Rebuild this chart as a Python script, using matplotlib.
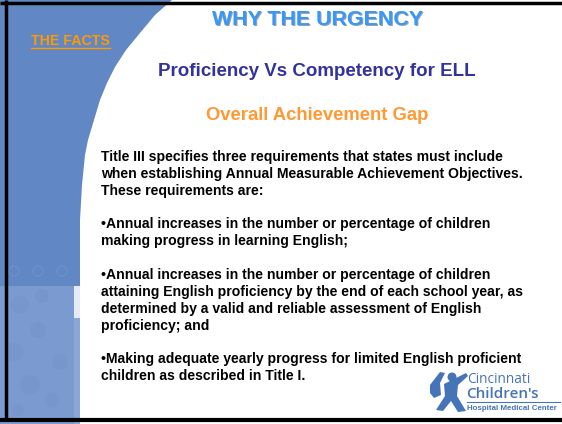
import matplotlib.pyplot as plt
from matplotlib.patches import Rectangle, Circle, Polygon

plt.rcParams['font.family'] = ['Liberation Sans', 'DejaVu Sans']

# ---- slide content ----
titulo = 'WHY THE URGENCY'
enlace = 'THE FACTS'
subtitulo = 'Proficiency Vs Competency for ELL'
subtitulo2 = 'Overall Achievement Gap'
cuerpo = [
    'Title III specifies three requirements that states must include',
    'when establishing Annual Measurable Achievement Objectives.',
    'These requirements are:',
    '',
    '\u2022Annual increases in the number or percentage of children',
    'making progress in learning English;',
    '',
    '\u2022Annual increases in the number or percentage of children',
    'attaining English proficiency by the end of each school year, as',
    'determined by a valid and reliable assessment of English',
    'proficiency; and',
    '',
    '\u2022Making adequate yearly progress for limited English proficient',
    'children as described in Title I.',
]
logo_lineas = ['Cincinnati', "Children's", 'Hospital Medical Center']

AZUL = '#6188c4'
AZUL_CLARO = '#7a9ad0'
AZUL_LOGO = '#4674b8'

W, H = 562, 424
fig = plt.figure(figsize=(W / 100, H / 100), dpi=100)
ax = fig.add_axes([0, 0, 1, 1])
ax.set_xlim(0, W)
ax.set_ylim(H, 0)
ax.axis('off')

# ---- left panel with curved edge ----
borde = [(172, 0), (155, 15), (140, 33), (126, 50), (115, 67), (107, 83),
         (100, 100), (94, 120), (88, 140), (85, 155), (82, 185), (80, 220),
         (80, 286)]
ax.add_patch(Polygon([(0, 0)] + borde + [(0, 286)], closed=True,
                     facecolor=AZUL, edgecolor='none'))
ax.add_patch(Rectangle((0, 286), 74, 140, facecolor=AZUL_CLARO, edgecolor='none'))
ax.add_patch(Rectangle((74, 286), 6, 32, facecolor='#e4ebf6', edgecolor='none'))
ax.add_patch(Rectangle((74, 318), 6, 108, facecolor='#8aa6d6', edgecolor='none'))
# faint circle texture
for cx, cy, r in [(20, 305, 9), (42, 296, 7), (38, 330, 8), (14, 352, 9),
                  (30, 385, 10), (60, 362, 8), (52, 400, 7), (18, 410, 6)]:
    ax.add_patch(Circle((cx, cy), r, facecolor='#7090c8', edgecolor='none', alpha=0.4))
for cx in [14, 38, 62]:
    ax.add_patch(Circle((cx, 271), 5, facecolor='none', edgecolor='#7393cb', lw=1.2, alpha=0.6))

# ---- border lines ----
ax.plot([0, W], [3, 3], color='black', lw=2.5, solid_capstyle='butt')
ax.plot([5.5, 5.5], [0, 421], color='black', lw=2.5, solid_capstyle='butt')
ax.plot([0, W], [419.5, 419.5], color='black', lw=3, solid_capstyle='butt')

# ---- headings ----
ax.text(318.5, 26.2, titulo, ha='center', va='baseline', fontsize=15.4,
        fontweight='bold', color='#a0a0a0')
ax.text(317, 25, titulo, ha='center', va='baseline', fontsize=15.4,
        fontweight='bold', color='#3399ff')
ax.text(31, 45, enlace, ha='left', va='baseline', fontsize=10.2,
        fontweight='bold', color='#ff9900')
ax.plot([31, 110], [47.5, 47.5], color='#ff9900', lw=1)
ax.text(317, 76, subtitulo, ha='center', va='baseline', fontsize=13.5,
        fontweight='bold', color='#333399')
ax.text(317, 120, subtitulo2, ha='center', va='baseline', fontsize=13.3,
        fontweight='bold', color='#ff9933')

# ---- body ----
y0, paso = 160.7, 16.9
for i, linea in enumerate(cuerpo):
    if linea:
        ax.text(101, y0 + i * paso, linea, ha='left', va='baseline',
                fontsize=10.1, fontweight='bold', color='black')

# ---- logo ----
ax.add_patch(Circle((452, 377), 4.5, facecolor=AZUL_LOGO, edgecolor='none'))
ax.add_patch(Polygon([(444, 384), (466, 373), (468, 376), (458, 385), (457, 396),
                      (466, 411), (458, 412), (451, 401), (443, 411), (436, 410),
                      (445, 396)], closed=True, facecolor=AZUL_LOGO, edgecolor='none'))
ax.add_patch(Polygon([(430, 385), (440, 372), (445, 373), (440, 383), (441, 395),
                      (434, 398), (430, 393)], closed=True, facecolor=AZUL_LOGO,
                     edgecolor='none'))
ax.text(467, 383, logo_lineas[0], ha='left', va='baseline', fontsize=9.8,
        color=AZUL_LOGO, family=['Open Sans', 'DejaVu Sans'])
ax.text(466, 398.5, logo_lineas[1], ha='left', va='baseline', fontsize=11,
        color=AZUL_LOGO, fontweight='semibold', family=['Open Sans', 'DejaVu Sans'])
ax.plot([467, 560], [401.8, 401.8], color=AZUL_LOGO, lw=0.8)
ax.text(467, 409.5, logo_lineas[2], ha='left', va='baseline', fontsize=5.7,
        color=AZUL_LOGO, fontweight='bold')

fig.savefig('out.png', dpi=100)
